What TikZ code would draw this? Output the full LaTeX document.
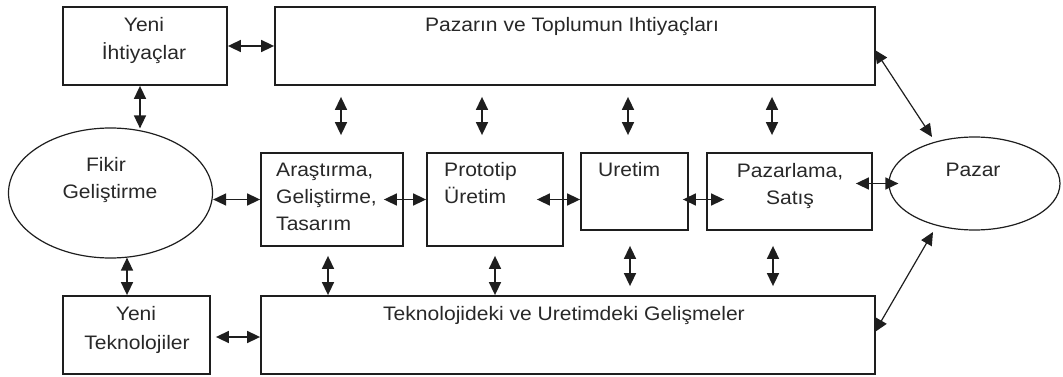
\documentclass[tikz,border=0pt]{standalone}
\usepackage{fontspec}
\setmainfont{Liberation Sans}[FakeStretch=1.08]
\usetikzlibrary{arrows.meta,calc,shapes.geometric}
\definecolor{ink}{RGB}{30,30,30}
\definecolor{txtc}{RGB}{40,40,40}
\tikzset{
  box/.style={draw=ink, line width=1.8pt, rectangle, inner sep=0pt},
  oval/.style={draw=ink, line width=1.2pt, ellipse, inner sep=0pt},
  txt/.style={anchor=base, inner sep=0pt, text=txtc, font=\fontsize{19.5}{26}\selectfont},
  ltxt/.style={txt, anchor=base west},
  arr/.style={{Triangle[length=13pt,width=12pt]}-{Triangle[length=13pt,width=12pt]}, line width=1.6pt, draw=ink},
  darr/.style={arr, line width=1.2pt},
}
\begin{document}
\begin{tikzpicture}[x=1pt,y=-1pt]
\useasboundingbox (0,0) rectangle (1063,377);

% boxes and ovals
\node[box, minimum width=164pt, minimum height=78pt] (yi) at (145,46) {};
\node[box, minimum width=600pt, minimum height=78pt] (pt) at (575,46) {};
\node[box, minimum width=142pt, minimum height=93pt] (ar) at (332,199.5) {};
\node[box, minimum width=136pt, minimum height=93pt] (pr) at (495,199.5) {};
\node[box, minimum width=107pt, minimum height=77pt] (ur) at (634.5,191.5) {};
\node[box, minimum width=165pt, minimum height=77pt] (ps) at (789.5,191.5) {};
\node[box, minimum width=147pt, minimum height=78pt] (yt) at (136.5,335) {};
\node[box, minimum width=614pt, minimum height=78pt] (tb) at (568,335) {};
\node[oval, minimum width=204pt, minimum height=130pt] (fk) at (110.5,193) {};
\node[oval, minimum width=171pt, minimum height=93pt] (pz) at (974.5,183.5) {};

% labels
\node[txt] (yi1) at (144,31.7) {Yeni};
\node[txt] (yi2) at (144,60) {İhtiyaçlar};
\node[txt] (pt1) at (572,31.7) {Pazarın ve Toplumun Ihtiyaçları};
\node[ltxt] (ar1) at (276,176.7) {Araştırma,};
\node[ltxt] (ar2) at (276,204) {Geliştirme,};
\node[ltxt] (ar3) at (276,230.7) {Tasarım};
\node[ltxt] (pr1) at (444,176.7) {Prototip};
\node[ltxt] (pr2) at (444,204) {Üretim};
\node[ltxt] (ur1) at (598,176.7) {Uretim};
\node[txt] (ps1) at (790,177.5) {Pazarlama,};
\node[txt] (ps2) at (790,204.5) {Satış};
\node[txt] (pz1) at (973,176.7) {Pazar};
\node[txt] (fk1) at (106,171.7) {Fikir};
\node[txt] (fk2) at (110,198) {Geliştirme};
\node[txt] (yt1) at (136,320.7) {Yeni};
\node[txt] (yt2) at (137,349) {Teknolojiler};
\node[txt] (tb1) at (564,320.7) {Teknolojideki ve Uretimdeki Gelişmeler};

% connectors
\draw[arr] (yi.east) -- (pt.west);
\draw[arr] ($(yi.south)+(-5,0)$) -- ($(fk.north)+(29.5,1)$);
\draw[arr] ($(pt.south -| ar.north)+(9,11)$) -- ($(ar.north)+(9,-17)$);
\draw[arr] ($(pt.south -| pr.north)+(-13,11)$) -- ($(pr.north)+(-13,-17)$);
\draw[arr] ($(pt.south -| ur.north)+(-6.5,11)$) -- ($(ur.north)+(-6.5,-17)$);
\draw[arr] ($(pt.south -| ps.north)+(-17.5,11)$) -- ($(ps.north)+(-17.5,-17)$);
\draw[arr] (fk.east |- ar.west) -- (ar.west);
\draw[arr] ($(ar.east)+(-20,0)$) -- (pr.west);
\draw[arr] ($(pr.east)+(-27,0)$) -- (ur.west |- pr.east);
\draw[arr] ($(ur.east |- pr.east)+(-6,0)$) -- ($(ps.west |- pr.east)+(18,0)$);
\draw[arr] ($(ps.east |- pz.west)+(-17,0)$) -- ($(pz.west)+(10,0)$);
\draw[darr] ($(pt.east)+(-1,4)$) -- ($(pz.center)+(-42.5,-46.5)$);
\draw[darr] ($(pz.center)+(-41.5,48.5)$) -- ($(tb.east)+(-1,-3)$);
\draw[arr] ($(ar.south)+(-4,9)$) -- ($(tb.north -| ar.south)+(-4,0)$);
\draw[arr] ($(pr.south)+(0,9)$) -- (tb.north -| pr.south);
\draw[arr] ($(ur.south)+(-4.5,15)$) -- ($(tb.north -| ur.south)+(-4.5,-9)$);
\draw[arr] ($(ps.south)+(-16.5,15)$) -- ($(tb.north -| ps.south)+(-16.5,-9)$);
\draw[arr] ($(fk.south)+(16.5,-1)$) -- ($(yt.north)+(-9.5,0)$);
\draw[arr] ($(yt.east)+(5,2)$) -- ($(tb.west)+(0,2)$);
\end{tikzpicture}
\end{document}
